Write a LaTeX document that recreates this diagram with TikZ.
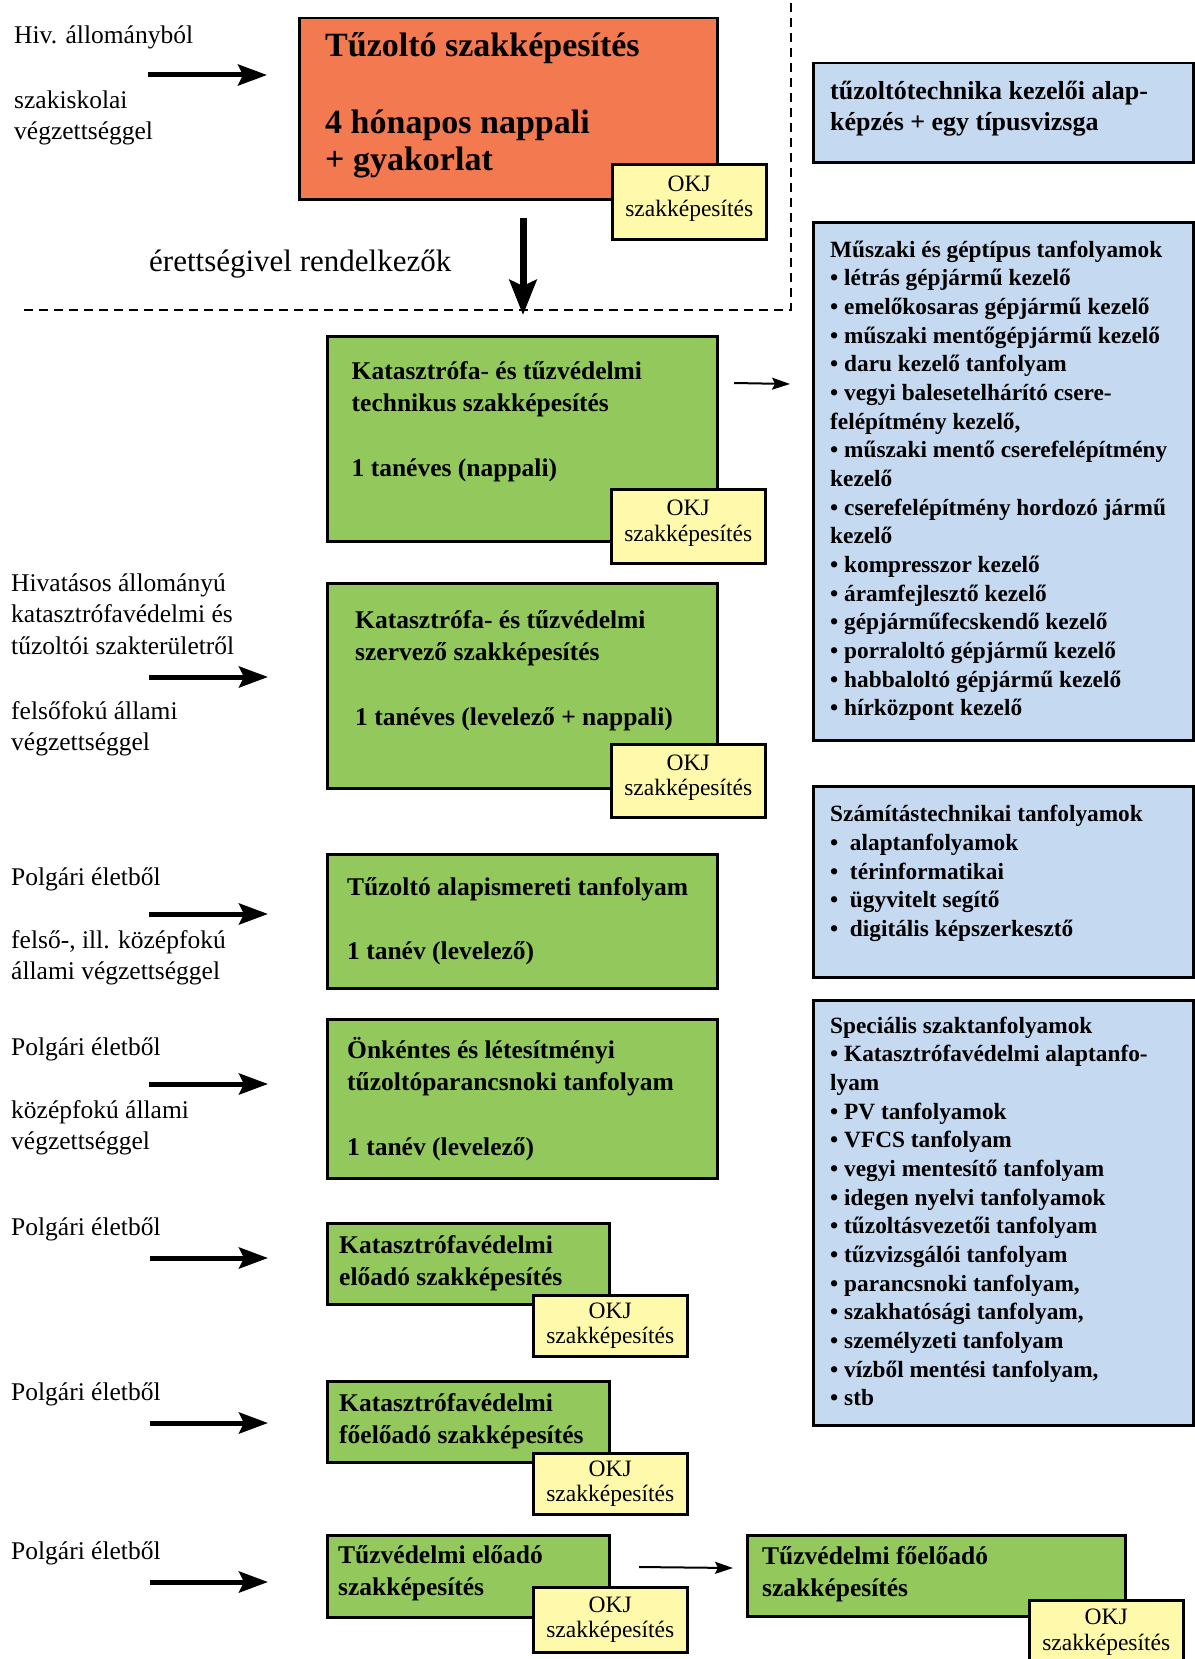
\documentclass[tikz,border=0pt]{standalone}
\usepackage{fontspec}
\setmainfont{Liberation Serif}
\usepackage{tikz}
\usetikzlibrary{arrows.meta}

\definecolor{kokorange}{RGB}{243,122,80}
\definecolor{kokgreen}{RGB}{147,201,92}
\definecolor{kokblue}{RGB}{197,217,241}
\definecolor{kokyellow}{RGB}{255,249,172}

\newcommand{\okjlift}{\rule[-11pt]{0pt}{11pt}}

\begin{document}
\begin{tikzpicture}[x=1pt,y=1pt,yscale=-1,xscale=1,
  boxshape/.style={draw, line width=2.5pt, inner sep=0pt, anchor=north west},
  orangebox/.style={boxshape, fill=kokorange},
  greenbox/.style={boxshape, fill=kokgreen},
  bluebox/.style={boxshape, fill=kokblue},
  okjbox/.style={boxshape, fill=kokyellow, minimum width=154pt, align=center,
    font=\fontsize{23.5}{25.5}\selectfont},
  boxtext/.style={anchor=north west, inner sep=0pt, align=left,
    font=\bfseries\fontsize{25.5}{32}\selectfont},
  bluetext/.style={anchor=north west, inner sep=0pt, align=left,
    font=\bfseries\fontsize{23.3}{28.65}\selectfont},
  sidetext/.style={anchor=north west, inner sep=0pt, align=left,
    font=\fontsize{25.5}{31.5}\selectfont},
  bigarrow/.style={line width=5pt, -{Stealth[length=29pt, width=21pt, inset=5pt]}},
  downarrow/.style={line width=7pt, -{Stealth[length=35pt, width=27pt, inset=6pt]}},
  thinarrow/.style={line width=2pt, -{Stealth[length=18pt, width=12pt, inset=3pt]}},
  dashline/.style={line width=2.5pt, dash pattern={on 9pt off 6pt}}]
\useasboundingbox (0,0) rectangle (1194,1659);

%Shape: Dashed border
\draw [dashline] (24,310) -- (791,310) -- (791,0);

%Shape: Rectangle [orange]
\node [orangebox, minimum width=418pt, minimum height=181pt] (tuz) at (298,17) {};
\node [okjbox, minimum height=75pt] (okj1) at (611,163) {OKJ\\szakképesítés\okjlift};
% Text Node
\node [boxtext, font=\bfseries\fontsize{34}{37.5}\selectfont] (tuztxt) at (325,30.25)
  {\strut Tűzoltó szakképesítés\\[39pt]4 hónapos nappali\\+ gyakorlat};

%Shape: Rectangles [green]
\node [greenbox, minimum width=390pt, minimum height=205pt] (tech) at (326,335) {};
\node [okjbox, minimum height=74pt] (okj2) at (610,488) {OKJ\\szakképesítés\okjlift};
\node [greenbox, minimum width=390pt, minimum height=205pt] (szerv) at (326,582) {};
\node [okjbox, minimum height=73pt] (okj3) at (610,743) {OKJ\\szakképesítés\okjlift};
\node [greenbox, minimum width=390pt, minimum height=134pt] (alap) at (326,853) {};
\node [greenbox, minimum width=390pt, minimum height=159pt] (onk) at (326,1018) {};
\node [greenbox, minimum width=282pt, minimum height=81pt] (kelo) at (326,1222) {};
\node [okjbox, minimum height=61pt] (okj5) at (532,1294) {OKJ\\szakképesítés};
\node [greenbox, minimum width=282pt, minimum height=81pt] (kfo) at (326,1380) {};
\node [okjbox, minimum height=61pt] (okj6) at (532,1452) {OKJ\\szakképesítés};
\node [greenbox, minimum width=282pt, minimum height=82pt] (telo) at (326,1534) {};
\node [okjbox, minimum height=65pt] (okj7) at (532,1586) {OKJ\\szakképesítés};
\node [greenbox, minimum width=378pt, minimum height=81pt] (tfo) at (746,1534) {};
\node [okjbox, minimum height=64pt] (okj8) at (1028,1599) {OKJ\\szakképesítés};

% Text Node
\node [boxtext] (techtxt) at (351.5,356.6)
  {\strut Katasztrófa- és tűzvédelmi\\technikus szakképesítés\\[33pt]1 tanéves (nappali)};
% Text Node
\node [boxtext] (szervtxt) at (355,605.6)
  {\strut Katasztrófa- és tűzvédelmi\\szervező szakképesítés\\[33pt]1 tanéves (levelező + nappali)};
% Text Node
\node [boxtext] (alaptxt) at (347,872.6)
  {\strut Tűzoltó alapismereti tanfolyam\\[32pt]1 tanév (levelező)};
% Text Node
\node [boxtext] (onktxt) at (347,1035.6)
  {\strut Önkéntes és létesítményi\\tűzoltóparancsnoki tanfolyam\\[33pt]1 tanév (levelező)};
% Text Node
\node [boxtext] (kelotxt) at (339,1230.6) {\strut Katasztrófavédelmi\\előadó szakképesítés};
% Text Node
\node [boxtext] (kfotxt) at (339,1388.6) {\strut Katasztrófavédelmi\\főelőadó szakképesítés};
% Text Node
\node [boxtext] (telotxt) at (338,1540.6) {\strut Tűzvédelmi előadó\\szakképesítés};
% Text Node
\node [boxtext] (tfotxt) at (762,1541.6) {\strut Tűzvédelmi főelőadó\\szakképesítés};

%Shape: Rectangles [blue]
\node [bluebox, minimum width=380pt, minimum height=99pt] (kezelo) at (812,62) {};
\node [bluebox, minimum width=380pt, minimum height=518pt] (muszaki) at (812,221) {};
\node [bluebox, minimum width=380pt, minimum height=191pt] (szamit) at (812,785) {};
\node [bluebox, minimum width=380pt, minimum height=425pt] (spec) at (812,999) {};

% Text Node
\node [bluetext, font=\bfseries\fontsize{26}{31.5}\selectfont] (kezelotxt) at (830,77)
  {\strut tűzoltótechnika kezelői alap-\\képzés + egy típusvizsga};
% Text Node
\node [bluetext] (muszakitxt) at (830,237)
  {\strut Műszaki és géptípus tanfolyamok\\
   • létrás gépjármű kezelő\\
   • emelőkosaras gépjármű kezelő\\
   • műszaki mentőgépjármű kezelő\\
   • daru kezelő tanfolyam\\
   • vegyi balesetelhárító csere-\\
   felépítmény kezelő,\\
   • műszaki mentő cserefelépítmény\\
   kezelő\\
   • cserefelépítmény hordozó jármű\\
   kezelő\\
   • kompresszor kezelő\\
   • áramfejlesztő kezelő\\
   • gépjárműfecskendő kezelő\\
   • porraloltó gépjármű kezelő\\
   • habbaloltó gépjármű kezelő\\
   • hírközpont kezelő};
% Text Node
\node [bluetext] (szamittxt) at (830,801.5)
  {\strut Számítástechnikai tanfolyamok\\
   •\ \ alaptanfolyamok\\
   •\ \ térinformatikai\\
   •\ \ ügyvitelt segítő\\
   •\ \ digitális képszerkesztő};
% Text Node
\node [bluetext] (spectxt) at (830,1013)
  {\strut Speciális szaktanfolyamok\\
   • Katasztrófavédelmi alaptanfo-\\
   lyam\\
   • PV tanfolyamok\\
   • VFCS tanfolyam\\
   • vegyi mentesítő tanfolyam\\
   • idegen nyelvi tanfolyamok\\
   • tűzoltásvezetői tanfolyam\\
   • tűzvizsgálói tanfolyam\\
   • parancsnoki tanfolyam,\\
   • szakhatósági tanfolyam,\\
   • személyzeti tanfolyam\\
   • vízből mentési tanfolyam,\\
   • stb};

% Text Node
\node [sidetext] (hiv) at (14,21) {\strut Hiv. állományból\\[33.5pt]szakiskolai\\végzettséggel};
% Text Node
\node [sidetext] (hivat) at (11,569)
  {\strut Hivatásos állományú\\katasztrófavédelmi és\\tűzoltói szakterületről\\[33.5pt]felsőfokú állami\\végzettséggel};
% Text Node
\node [sidetext] (polg1) at (11,863) {\strut Polgári életből\\[31.5pt]felső-, ill. középfokú\\állami végzettséggel};
% Text Node
\node [sidetext] (polg2) at (11,1033) {\strut Polgári életből\\[31.5pt]középfokú állami\\végzettséggel};
% Text Node
\node [sidetext] (polg3) at (11,1213) {\strut Polgári életből};
% Text Node
\node [sidetext] (polg4) at (11,1378) {\strut Polgári életből};
% Text Node
\node [sidetext] (polg5) at (11,1537) {\strut Polgári életből};
% Text Node
\node [anchor=base west, inner sep=0pt, font=\fontsize{31}{36}\selectfont] (erett) at (149,271)
  {érettségivel rendelkezők};

%Straight Lines [arrows]
\coordinate (in0a) at (148,75);    \coordinate (in0b) at (267,75);
\coordinate (in1a) at (149,677);   \coordinate (in1b) at (268,677);
\coordinate (in2a) at (149,914);   \coordinate (in2b) at (268,914);
\coordinate (in3a) at (149,1084);  \coordinate (in3b) at (268,1084);
\coordinate (in4a) at (150,1258);  \coordinate (in4b) at (268,1258);
\coordinate (in5a) at (150,1423);  \coordinate (in5b) at (268,1423);
\coordinate (in6a) at (150,1582);  \coordinate (in6b) at (268,1582);
\draw [bigarrow] (in0a) -- (in0b);
\draw [bigarrow] (in1a) -- (in1b);
\draw [bigarrow] (in2a) -- (in2b);
\draw [bigarrow] (in3a) -- (in3b);
\draw [bigarrow] (in4a) -- (in4b);
\draw [bigarrow] (in5a) -- (in5b);
\draw [bigarrow] (in6a) -- (in6b);

\coordinate (downa) at (523,218);  \coordinate (downb) at (523,315);
\draw [downarrow] (downa) -- (downb);

\coordinate (techa) at (734,383);  \coordinate (techb) at (790,384);
\draw [thinarrow] (techa) -- (techb);
\coordinate (teloa) at (639,1567); \coordinate (telob) at (733,1568);
\draw [thinarrow] (teloa) -- (telob);

\end{tikzpicture}
\end{document}
